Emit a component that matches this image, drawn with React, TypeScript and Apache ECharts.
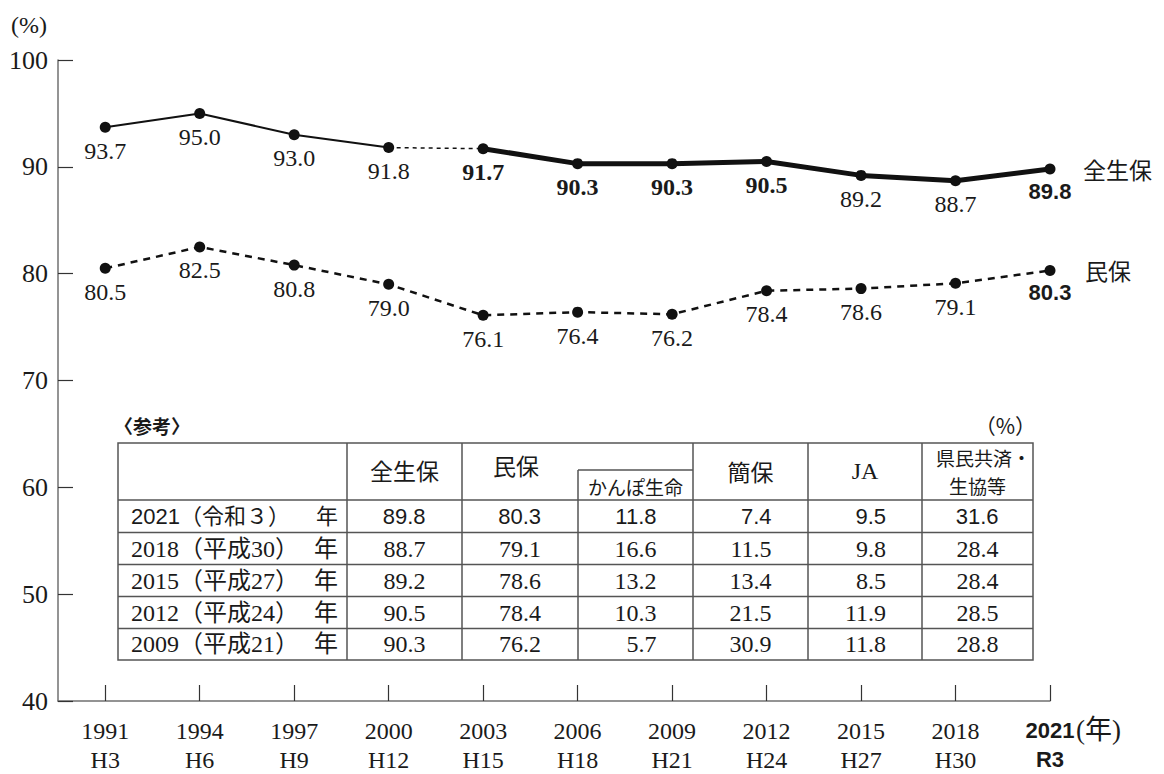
import React, { useEffect, useRef } from 'react';
import * as echarts from 'echarts';

// ---- chart data ----
const years = [1991, 1994, 1997, 2000, 2003, 2006, 2009, 2012, 2015, 2018, 2021];
const eraLabels = ['H3', 'H6', 'H9', 'H12', 'H15', 'H18', 'H21', 'H24', 'H27', 'H30', 'R3'];
const allLife = [93.7, 95.0, 93.0, 91.8, 91.7, 90.3, 90.3, 90.5, 89.2, 88.7, 89.8];
const privateLife = [80.5, 82.5, 80.8, 79.0, 76.1, 76.4, 76.2, 78.4, 78.6, 79.1, 80.3];
const allLifeName = '全生保';
const privateLifeName = '民保';

// ---- reference table data ----
const tableHeaders = ['全生保', '民保', 'かんぽ生命', '簡保', 'JA', '県民共済・', '生協等'];
const tableRowLabels = ['2021（令和３）', '2018（平成30）', '2015（平成27）', '2012（平成24）', '2009（平成21）'];
const tableAll = [89.8, 88.7, 89.2, 90.5, 90.3];
const tablePrivate = [80.3, 79.1, 78.6, 78.4, 76.2];
const tableKampo = [11.8, 16.6, 13.2, 10.3, 5.7];
const tableKanpo = [7.4, 11.5, 13.4, 21.5, 30.9];
const tableJA = [9.5, 9.8, 8.5, 11.9, 11.8];
const tableKyosai = [31.6, 28.4, 28.4, 28.5, 28.8];

const SERIF = "'Liberation Serif', 'Noto Sans CJK JP', serif";
const SANS = "'Liberation Sans', 'Noto Sans CJK JP', sans-serif";
const CJK = "'Noto Sans CJK JP', sans-serif";
const INK = '#1a1a1a';
const AXIS = '#707070';

const serifLabel = { fontFamily: SERIF, fontWeight: 'normal' as const, fontSize: 24 };
const serifBold = { fontFamily: SERIF, fontWeight: 'bold' as const, fontSize: 24 };
const sansBold = { fontFamily: SANS, fontWeight: 'bold' as const, fontSize: 22 };

function allLifeLabelStyle(i: number) {
  if (i === years.length - 1) return sansBold;
  if (i >= 4 && i <= 7) return serifBold;
  return serifLabel;
}
function privateLabelStyle(i: number) {
  if (i === years.length - 1) return sansBold;
  return serifLabel;
}

function buildPoints(values: number[], from: number, to: number, styleFn: ((i: number) => any) | null) {
  const out: any[] = [];
  for (let i = from; i <= to; i++) {
    const item: any = { value: [years[i], values[i]] };
    if (styleFn) {
      item.label = { ...styleFn(i) };
    }
    out.push(item);
  }
  return out;
}

function buildTableGraphics() {
  const colX = [118, 347, 462, 578, 693, 808, 922, 1033];
  const rowY = [443, 500, 532.5, 564.5, 596.5, 628.5, 660];
  const subTop = 470;
  const stroke = { stroke: '#555', lineWidth: 1.5 };
  const els: any[] = [];
  const line = (x1: number, y1: number, x2: number, y2: number) =>
    els.push({ type: 'line', shape: { x1, y1, x2, y2 }, style: { ...stroke } });
  const text = (x: number, y: number, t: string, fontSize: number, fontFamily: string, align = 'center', fontWeight = 'normal') =>
    els.push({
      type: 'text', x, y,
      style: { text: t, fontSize, fontFamily, fontWeight, fill: INK, align, verticalAlign: 'middle' },
    });

  els.push({ type: 'rect', shape: { x: colX[0], y: rowY[0], width: colX[7] - colX[0], height: rowY[6] - rowY[0] }, style: { fill: '#fff', ...stroke } });
  for (let r = 1; r < rowY.length - 1; r++) line(colX[0], rowY[r], colX[7], rowY[r]);
  [1, 2, 4, 5, 6].forEach((c) => line(colX[c], rowY[0], colX[c], rowY[6]));
  line(colX[3], subTop, colX[3], rowY[6]);
  line(colX[3], subTop, colX[4], subTop);

  // titles
  text(114, 425, '〈参考〉', 19, CJK, 'left', 'bold');
  text(1036, 425, '（%）', 21, CJK, 'right');

  // headers
  text((colX[1] + colX[2]) / 2, 470, tableHeaders[0], 23, CJK);
  text((colX[2] + colX[3]) / 2 - 4, 465, tableHeaders[1], 23, CJK);
  text((colX[3] + colX[4]) / 2, 486, tableHeaders[2], 19, CJK);
  text((colX[4] + colX[5]) / 2, 471, tableHeaders[3], 23, CJK);
  text((colX[5] + colX[6]) / 2, 471, tableHeaders[4], 24, SERIF);
  text((colX[6] + colX[7]) / 2 + 6, 457, tableHeaders[5], 19, CJK);
  text((colX[6] + colX[7]) / 2, 485, tableHeaders[6], 19, CJK);

  const cols = [tableAll, tablePrivate, tableKampo, tableKanpo, tableJA, tableKyosai];
  tableRowLabels.forEach((lab, r) => {
    const cy = (rowY[r + 1] + rowY[r + 2]) / 2;
    const fam = r === 0 ? SANS : SERIF;
    const fs = r === 0 ? 22 : 24;
    text(131, cy, lab, fs, fam, 'left');
    text(338, cy, '年', fs, fam, 'right');
    cols.forEach((arr, c) => {
      const cx = (colX[c + 1] + colX[c + 2]) / 2;
      text(cx + 21, cy, arr[r].toFixed(1), fs, fam, 'right');
    });
  });
  return els;
}

export default function App() {
  const ref = useRef<HTMLDivElement>(null);
  useEffect(() => {
    const chart = echarts.init(ref.current!, null, { renderer: 'svg' });
    const labelBase = {
      show: true, position: 'bottom', distance: 6, fontSize: 24, color: INK,
      formatter: (p: any) => Number(p.value[1]).toFixed(1),
    };
    const symbolBase = { symbol: 'circle', symbolSize: 11, itemStyle: { color: '#111' } };
    const option: any = {
      animation: false,
      backgroundColor: '#fff',
      grid: { left: 58, right: 114, top: 60, bottom: 73, containLabel: false, outerBoundsMode: 'none' },
      xAxis: {
        type: 'value', min: 1989.5, max: 2021,
        axisLine: { show: true, lineStyle: { color: AXIS, width: 1.5 } },
        axisTick: { show: true, inside: true, length: 16, customValues: years, lineStyle: { color: '#333', width: 1.2 } },
        splitLine: { show: false },
        axisLabel: {
          show: true, margin: 15, customValues: years, showMinLabel: true, showMaxLabel: true,
          formatter: (v: number) => {
            const i = years.indexOf(Math.round(v));
            if (i < 0) return '';
            const s = i === years.length - 1 ? 'b' : 'a';
            return `{${s}|${years[i]}}\n{${s}|${eraLabels[i]}}`;
          },
          rich: {
            a: { fontFamily: SERIF, fontSize: 24, lineHeight: 29, color: INK },
            b: { fontFamily: SANS, fontSize: 22, fontWeight: 'bold', lineHeight: 29, color: INK },
          },
        },
      },
      yAxis: {
        type: 'value', min: 40, max: 100, interval: 10,
        axisLine: { show: true, lineStyle: { color: AXIS, width: 1.5 } },
        axisTick: { show: true, inside: true, length: 15, lineStyle: { color: '#333', width: 1.2 } },
        splitLine: { show: false },
        axisLabel: { fontFamily: SERIF, fontSize: 26, color: INK, margin: 10 },
      },
      series: [
        {
          type: 'line', name: allLifeName + '1', ...symbolBase,
          lineStyle: { color: '#111', width: 2 },
          label: { ...labelBase },
          data: buildPoints(allLife, 0, 3, allLifeLabelStyle),
          z: 3,
        },
        {
          type: 'line', name: allLifeName + '2', symbol: 'none',
          lineStyle: { color: '#111', width: 1.5, type: [4, 4] },
          data: buildPoints(allLife, 3, 4, null),
          z: 2,
        },
        {
          type: 'line', name: allLifeName, ...symbolBase,
          lineStyle: { color: '#111', width: 5 },
          label: { ...labelBase },
          endLabel: { show: true, formatter: allLifeName, distance: 33, fontFamily: CJK, fontSize: 23, color: INK },
          data: buildPoints(allLife, 4, years.length - 1, allLifeLabelStyle),
          z: 3,
        },
        {
          type: 'line', name: privateLifeName, ...symbolBase,
          lineStyle: { color: '#111', width: 2.5, type: [7, 6] },
          label: { ...labelBase },
          endLabel: { show: true, formatter: privateLifeName, distance: 35, fontFamily: CJK, fontSize: 23, color: INK },
          data: buildPoints(privateLife, 0, years.length - 1, privateLabelStyle),
          z: 3,
        },
      ],
      graphic: [
        { type: 'text', x: 11, y: 25, style: { text: '(%)', fontSize: 24, fontFamily: SERIF, fill: INK, align: 'left', verticalAlign: 'middle' } },
        { type: 'text', x: 1076, y: 730, style: { text: '(年)', fontSize: 27, fontFamily: SERIF, fill: INK, align: 'left', verticalAlign: 'middle' } },
        ...buildTableGraphics(),
      ],
    };
    chart.setOption(option);
    return () => chart.dispose();
  }, []);
  return (
    <div
      ref={ref}
      style={{ position: 'absolute', left: 0, top: 0, width: 1164, height: 774, background: '#fff' }}
    />
  );
}
